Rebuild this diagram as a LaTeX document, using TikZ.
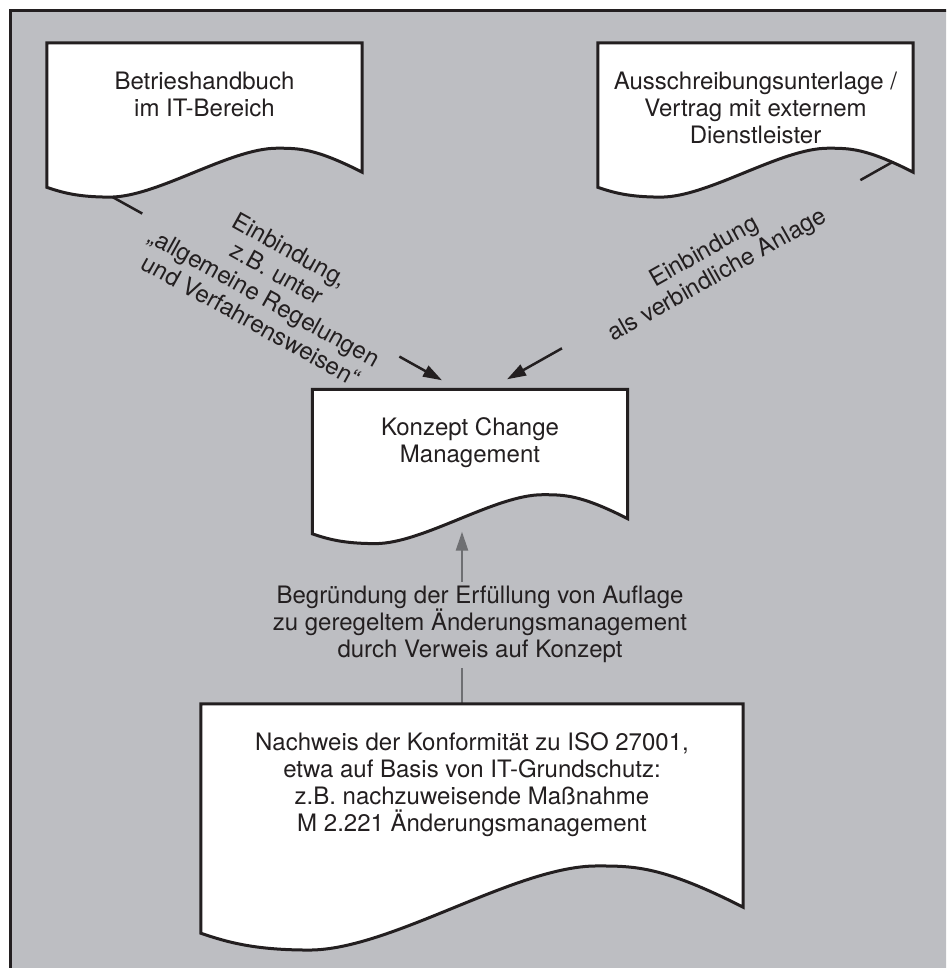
\documentclass[tikz,border=0pt]{standalone}
\usepackage{fontspec}
\setmainfont{TeX Gyre Heros}
\usetikzlibrary{arrows.meta,positioning,calc}

\definecolor{bggray}{RGB}{189,190,194}
\definecolor{ink}{RGB}{35,31,32}
\definecolor{arrgray}{RGB}{110,111,114}

% outline of a document sheet around an (empty) node
\newcommand\docshape[1]{%
  \draw[docline] let \p1=(#1.south west), \p2=(#1.north east), \n1={\x2-\x1} in
    (\x1,\y2) -- (\x2,\y2) -- (\x2,\y1)
    .. controls (\x2-0.15*\n1,\y1+0.076*\n1) and (\x2-0.2*\n1,\y1+0.076*\n1) .. (\x1+0.73*\n1,\y1+0.076*\n1)
    .. controls (\x1+0.58*\n1,\y1+0.076*\n1) and (\x1+0.35*\n1,\y1-0.079*\n1) .. (\x1+0.2*\n1,\y1-0.079*\n1)
    .. controls (\x1+0.1*\n1,\y1-0.079*\n1) and (\x1+0.05*\n1,\y1-0.065*\n1) .. (\x1,\y1-0.048*\n1)
    -- cycle;}

\begin{document}
\begin{tikzpicture}[x=1pt,y=1pt,font={\fontsize{24}{27}\selectfont},text=ink,
  docu/.style={minimum width=315pt,minimum height=129pt,inner sep=0pt},
  docline/.style={draw=ink,line width=3pt,fill=white},
  doctxt/.style={align=center,inner sep=0pt},
  lbl/.style={align=center,fill=bggray,inner ysep=2pt},
  link/.style={draw=ink,line width=2.5pt,-{Triangle[length=19pt,width=12pt]}}]
\useasboundingbox (0,0) rectangle (946,968);
\clip (0,0) rectangle (946,968);
\fill[white] (0,0) rectangle (946,968);
\draw[draw=ink,line width=3pt,fill=bggray] (10,957) rectangle (980,-20);
% ---- sheets (places only) ----
\node[docu] (hb)  at (204.5,860.5) {};
\node[docu] (vt)  at (755.5,860.5) {};
\node[docu] (cm)  at (470,514) {};
\node[docu,minimum width=542pt,minimum height=203pt] (iso) at (472,162.5) {};
% ---- connector ends ----
\coordinate (hbout)  at ([shift={(66,-25)}]hb.south west);
\coordinate (vtout)  at ([shift={(-21,10)}]vt.south east);
\coordinate (cmin1)  at ([shift={(-28,9)}]cm.north);
\coordinate (cmin2)  at ([shift={(37,10)}]cm.north);
\coordinate (cmbot)  at ([shift={(-8,-13)}]cm.south);
\coordinate (isotop) at ([xshift=-10]iso.north);
% ---- connectors ----
\draw[link] (hbout) -- node[lbl,sloped,pos=0.48,inner xsep=17pt]
  {Einbindung,\\z.B. unter\\„allgemeine Regelungen\\und Verfahrensweisen“} (cmin1);
\draw[link] (vtout) -- node[lbl,sloped,pos=0.47,inner xsep=48pt]
  {Einbindung\\als verbindliche Anlage} (cmin2);
\draw[link,draw=arrgray] (isotop) -- node[lbl,pos=0.46,xshift=18pt,inner xsep=4pt,inner ysep=4.5pt]
  {Begründung der Erfüllung von Auflage\\zu geregeltem Änderungsmanagement\\durch Verweis auf Konzept} (cmbot);
% ---- sheets ----
\docshape{hb}
\docshape{vt}
\docshape{cm}
\docshape{iso}
\node[doctxt,below=29pt of hb.north]  (hbt)  {Betrieshandbuch\\im IT-Bereich};
\node[doctxt,below=29pt of vt.north]  (vtt)  {Ausschreibungsunterlage /\\Vertrag mit externem\\Dienstleister};
\node[doctxt,below=28pt of cm.north]  (cmt)  {Konzept Change\\Management};
\node[doctxt,below=29pt of iso.north] (isot) {Nachweis der Konformität zu ISO 27001,\\etwa auf Basis von IT-Grundschutz:\\z.B. nachzuweisende Maßnahme\\M 2.221 Änderungsmanagement};
\end{tikzpicture}
\end{document}
